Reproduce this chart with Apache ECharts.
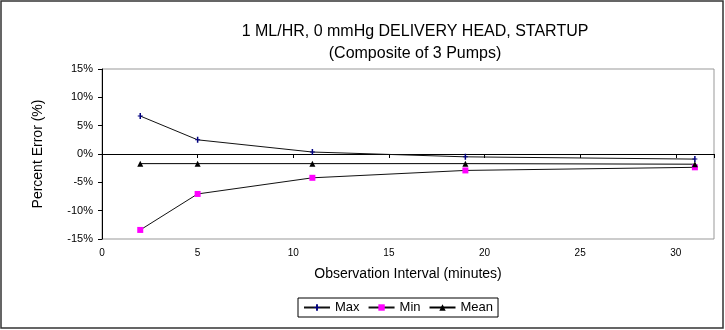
<!DOCTYPE html>
<html>
<head>
<meta charset="utf-8">
<script src="https://cdn.jsdelivr.net/npm/echarts@6/dist/echarts.min.js"></script>
<style>
  html, body { margin: 0; padding: 0; background: #fff; }
  #chart { width: 725px; height: 330px; }
</style>
</head>
<body>
<div id="chart"></div>
<script>
// Observation intervals (minutes) and percent error per pump statistic
const intervals = [2, 5, 11, 19, 31];
const maxError = [6.7, 2.5, 0.35, -0.5, -0.9];
const minError = [-13.4, -7.05, -4.2, -2.9, -2.35];
const meanError = [-1.7, -1.7, -1.7, -1.7, -1.8];
const yTicks = [-15, -10, -5, 0, 5, 10, 15];

const FONT = 'Liberation Sans, Arial, sans-serif';
// plus-shaped marker for the Max series
const PLUS = 'path://M3.5,0H6.5V5H10V7H6.5V12H3.5V7H0V5H3.5Z';

function pairs(ys) {
  return intervals.map((x, i) => [x, ys[i]]);
}

const chart = echarts.init(document.getElementById('chart'), null, { renderer: 'canvas' });

chart.setOption({
  animation: false,
  backgroundColor: '#fff',
  textStyle: { fontFamily: FONT },
  title: {
    text: '1 ML/HR, 0 mmHg DELIVERY HEAD, STARTUP\n(Composite of 3 Pumps)',
    left: 410,
    top: 16,
    textAlign: 'center',
    textStyle: { fontFamily: FONT, fontSize: 16, fontWeight: 'normal', color: '#000', lineHeight: 22 }
  },
  graphic: [{
    type: 'rect',
    shape: { x: 1, y: 1, width: 722, height: 327 },
    style: { fill: 'none', stroke: '#333', lineWidth: 1.5 },
    silent: true
  }],
  grid: {
    left: 102, right: 11, top: 69, bottom: 91,
    show: true, borderColor: '#999', borderWidth: 1, backgroundColor: '#fff'
  },
  legend: {
    top: 298,
    left: 298,
    itemWidth: 26,
    itemHeight: 8,
    itemGap: 8,
    padding: [3, 5, 3, 5],
    borderColor: '#000',
    borderWidth: 1,
    textStyle: { fontFamily: FONT, fontSize: 13, color: '#000' },
    data: ['Max', 'Min', 'Mean']
  },
  xAxis: [{
    type: 'value',
    min: 0, max: 32, interval: 5,
    position: 'bottom',
    axisLine: { show: false, onZero: false },
    axisTick: { show: false },
    splitLine: { show: false },
    axisLabel: {
      fontFamily: FONT, fontSize: 10, color: '#000', margin: 9,
      formatter: v => (v % 5 === 0 && v <= 30) ? String(v) : ''
    },
    name: 'Observation Interval (minutes)',
    nameLocation: 'middle',
    nameGap: 28,
    nameTextStyle: { fontFamily: FONT, fontSize: 14, color: '#000' }
  }, {
    type: 'value',
    min: 0, max: 32, interval: 5,
    position: 'bottom',
    axisLine: { show: true, onZero: true, lineStyle: { color: '#000', width: 1 } },
    axisTick: { show: true, length: 4, lineStyle: { color: '#000' } },
    axisLabel: { show: false },
    splitLine: { show: false }
  }],
  yAxis: {
    type: 'value',
    min: yTicks[0], max: yTicks[yTicks.length - 1], interval: 5,
    axisLine: { show: true, onZero: false, lineStyle: { color: '#000', width: 1 } },
    axisTick: { show: true, length: 4, lineStyle: { color: '#000' } },
    splitLine: { show: false },
    axisLabel: { fontFamily: FONT, fontSize: 11, color: '#000', margin: 9, formatter: '{value}%' },
    name: 'Percent Error (%)',
    nameLocation: 'middle',
    nameGap: 57,
    nameTextStyle: { fontFamily: FONT, fontSize: 14, color: '#000' }
  },
  series: [{
    name: 'Max',
    type: 'line',
    xAxisIndex: 0,
    data: pairs(maxError),
    symbol: PLUS,
    symbolSize: [5, 6],
    itemStyle: { color: '#000080' },
    lineStyle: { color: '#111', width: 1 }
  }, {
    name: 'Min',
    type: 'line',
    xAxisIndex: 0,
    data: pairs(minError),
    symbol: 'rect',
    symbolSize: 6,
    itemStyle: { color: '#FF00FF' },
    lineStyle: { color: '#111', width: 1 }
  }, {
    name: 'Mean',
    type: 'line',
    xAxisIndex: 0,
    data: pairs(meanError),
    symbol: 'triangle',
    symbolSize: 6,
    itemStyle: { color: '#000' },
    lineStyle: { color: '#000', width: 1 }
  }]
});
</script>
</body>
</html>
